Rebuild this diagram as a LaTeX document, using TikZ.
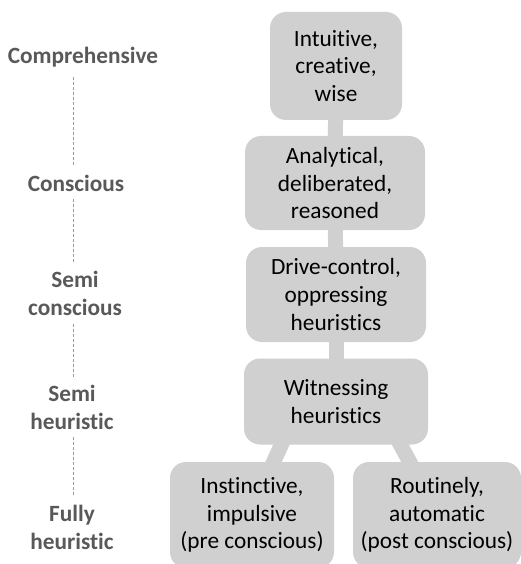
\documentclass[tikz,border=0pt]{standalone}
\usepackage{fontspec}
\setmainfont{Carlito}[Ligatures=NoCommon]
\usetikzlibrary{calc,backgrounds}
\definecolor{boxgray}{HTML}{D0D0D0}
\definecolor{labelgray}{HTML}{595959}
\definecolor{dashgray}{HTML}{9A9A9A}
\tikzset{
  level/.style={fill=boxgray, draw=none, rounded corners=16pt, inner sep=0pt,
    align=center, text=black, font=\fontsize{23.3}{27.6}\selectfont},
  stage/.style={align=center, text=labelgray, inner sep=0pt,
    font=\fontsize{23.3}{28}\selectfont\bfseries},
  link/.style={boxgray, line width=15pt},
  guide/.style={dashgray, line width=0.8pt, dash pattern=on 3pt off 2pt},
}
\begin{document}
\begin{tikzpicture}[x=1pt, y=-1pt]
\useasboundingbox (0,0) rectangle (521,564);
\clip (0,0) rectangle (521,564);

% levels of thinking
\node[level, minimum width=132pt, minimum height=108pt] (b1) at (336,66) {Intuitive,\\creative,\\wise};
\node[level, minimum width=180pt, minimum height=94pt] (b2) at (335,183) {Analytical,\\deliberated,\\reasoned};
\node[level, minimum width=180pt, minimum height=95pt] (b3) at (336,294.5) {Drive-control,\\oppressing\\heuristics};
\node[level, minimum width=184pt, minimum height=86pt] (b4) at (336,401.5) {Witnessing\\heuristics};
\node[level, minimum width=164pt, minimum height=106pt] (lf) at (252,515) {Instinctive,\\impulsive\\(pre conscious)};
\node[level, minimum width=168pt, minimum height=106pt] (rt) at (437,515) {Routinely,\\automatic\\(post conscious)};

% stage labels
\node[stage] (s1) at (83,57) {Comprehensive};
\node[stage] (s2) at (76,183) {Conscious};
\node[stage] (s3) at (75,293) {Semi\\conscious};
\node[stage] (s4) at (72,407) {Semi\\heuristic};
\node[stage] (s5) at (72,527) {Fully\\heuristic};

% dashed guide between labels
\coordinate (axis) at (73,0);
\draw[guide, shorten <=10pt, shorten >=9pt] (s1.south -| axis) -- (s2.north -| axis);
\draw[guide, shorten <=8pt, shorten >=7pt] (s2.south -| axis) -- (s3.north -| axis);
\draw[guide, shorten <=9pt, shorten >=6pt] (s3.south -| axis) -- (s4.north -| axis);
\draw[guide, shorten <=8pt, shorten >=8pt] (s4.south -| axis) -- (s5.north -| axis);

% connectors behind the boxes
\begin{pgfonlayer}{background}
\draw[link] (b1.center) -- (b2.center);
\draw[link] (b2.center) -- (b3.center);
\draw[link] (b3.center) -- (b4.center);
\draw[link] ($(b4.south)+(-51,-8)$) -- ($(lf.north)+(18,8)$);
\draw[link] ($(b4.south)+(60,-8)$) -- ($(rt.north)+(-23,8)$);
\end{pgfonlayer}
\end{tikzpicture}
\end{document}
